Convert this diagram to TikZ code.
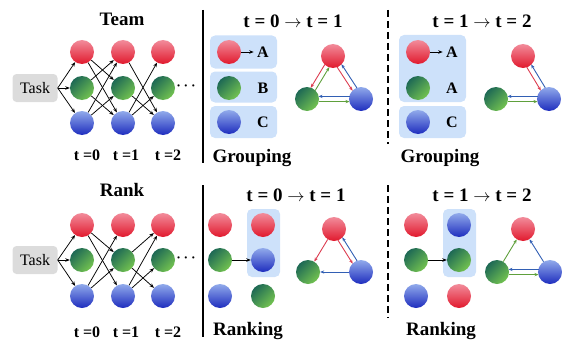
\documentclass[tikz,border=0pt]{standalone}
\usepackage{fontspec}
\setmainfont{Liberation Serif}
\usetikzlibrary{calc,arrows.meta}
\definecolor{rtop}{RGB}{242,140,155}
\definecolor{rbot}{RGB}{225,25,45}
\definecolor{gdark}{RGB}{30,105,85}
\definecolor{glight}{RGB}{115,195,80}
\definecolor{btop}{RGB}{145,170,235}
\definecolor{bbot}{RGB}{30,45,190}
\definecolor{boxblue}{RGB}{205,225,250}
\definecolor{taskgray}{RGB}{220,220,220}
\definecolor{ered}{RGB}{220,60,80}
\definecolor{egreen}{RGB}{95,160,60}
\definecolor{eblue}{RGB}{50,95,180}
\newcommand{\bedge}[3]{\draw[#1,tarr,shorten <=11.5pt,shorten >=11.5pt] ($(#2)!2.6pt!-90:(#3)$) -- ($(#3)!2.6pt!90:(#2)$);}
\newcommand{\sedge}[3]{\draw[#1,tarr] (#2) -- (#3);}
\begin{document}
\begin{tikzpicture}[x=1pt,y=-1pt,
  ball/.style={circle,inner sep=0pt,minimum size=24pt},
  rball/.style={ball,top color=rtop,bottom color=rbot},
  bball/.style={ball,top color=btop,bottom color=bbot},
  gball/.style={ball,top color=gdark,bottom color=glight,shading angle=45},
  title/.style={font=\bfseries\fontsize{19}{22}\selectfont},
  tlab/.style={font=\bfseries\fontsize{16}{19}\selectfont},
  letter/.style={font=\bfseries\fontsize{16}{19}\selectfont},
  taskbox/.style={fill=taskgray,rounded corners=4pt,minimum width=45pt,minimum height=28pt,font=\fontsize{16}{19}\selectfont},
  bluebox/.style={fill=boxblue,rounded corners=5pt,inner sep=0pt},
  dots/.style={font=\boldmath\bfseries\fontsize{15}{18}\selectfont,inner sep=0pt},
  net/.style={-{Stealth[length=4.5pt,width=3.5pt]},line width=0.75pt},
  tarr/.style={-{Stealth[length=4pt,width=3.2pt]},line width=0.9pt},
  sep/.style={line width=1.2pt},
  dsep/.style={line width=1.2pt,dash pattern=on 7pt off 4pt}]
\useasboundingbox (0,0) rectangle (569,345);

% ===== Team network =====
\node[title] (teamT) at (122,19) {Team};
\node[taskbox] (task1) at (35,88) {Task};
\foreach \c/\x in {1/82,2/123,3/163}{
  \node[rball] (tr\c) at (\x,52) {};
  \node[gball] (tg\c) at (\x,88) {};
  \node[bball] (tb\c) at (\x,123) {};
}
\node[dots] (tdots) at (186,86) {$\cdots$};
\foreach \n in {tr1,tg1,tb1}{\draw[net] (task1.east) -- (\n);}
\draw[net] (tr1) -- (tg2); \draw[net] (tr1) -- (tb2);
\draw[net] (tg1) -- (tr2); \draw[net] (tg1) -- (tb2);
\draw[net] (tb1) -- (tr2); \draw[net] (tb1) -- (tg2);
\draw[net] (tr2) -- (tb3); \draw[net] (tg2) -- (tb3);
\draw[net] (tb2) -- (tr3); \draw[net] (tb2) -- (tg3);
\node[tlab] (tt0) at (87,155) {t =0};
\node[tlab] (tt1) at (126,155) {t =1};
\node[tlab] (tt2) at (168,155) {t =2};

% ===== Rank network =====
\node[title] (rankT) at (122,190) {Rank};
\node[taskbox] (task2) at (35,260) {Task};
\foreach \c/\x in {1/82,2/123,3/163}{
  \node[rball] (rr\c) at (\x,225) {};
  \node[gball] (rg\c) at (\x,260) {};
  \node[bball] (rb\c) at (\x,296) {};
}
\node[dots] (rdots) at (186,258) {$\cdots$};
\foreach \n in {rr1,rg1,rb1}{\draw[net] (task2.east) -- (\n);}
\draw[net] (rr1) -- (rg2); \draw[net] (rr1) -- (rb2);
\draw[net] (rb1) -- (rr2); \draw[net] (rb1) -- (rg2);
\draw[net] (rg2) -- (rr3); \draw[net] (rg2) -- (rb3);
\draw[net] (rb2) -- (rr3); \draw[net] (rb2) -- (rg3);
\node[tlab] (rt0) at (87,332) {t =0};
\node[tlab] (rt1) at (126,332) {t =1};
\node[tlab] (rt2) at (168,332) {t =2};

% ===== separators =====
\coordinate (s1a) at (203,10); \coordinate (s1b) at (203,163);
\draw[sep] (s1a) -- (s1b);
\coordinate (s2a) at (203,185); \coordinate (s2b) at (203,337);
\draw[sep] (s2a) -- (s2b);
\coordinate (d1a) at (388,10); \coordinate (d1b) at (388,144);
\draw[dsep] (d1a) -- (d1b);
\coordinate (d2a) at (388,185); \coordinate (d2b) at (388,318);
\draw[dsep] (d2a) -- (d2b);

% ===== Panel 1: grouping t=0->1 =====
\node[title] (p1T) at (293,21) {t = 0 $\rightarrow$ t = 1};
\node[bluebox,minimum width=67pt,minimum height=33pt] (p1b1) at (243.5,52) {};
\node[bluebox,minimum width=67pt,minimum height=31pt] (p1b2) at (243.5,87) {};
\node[bluebox,minimum width=67pt,minimum height=32pt] (p1b3) at (243.5,122) {};
\node[rball] (p1r) at (229,52) {};
\node[gball] (p1g) at (229,88) {};
\node[bball] (p1b) at (229,122) {};
\node[letter] (p1A) at (263,52) {A};
\node[letter] (p1B) at (263,88) {B};
\node[letter] (p1C) at (263,122) {C};
\draw[net] (p1r) -- (p1A);
\node[rball] (q1r) at (333,56) {};
\node[gball] (q1g) at (307,99) {};
\node[bball] (q1b) at (361,99) {};
\bedge{ered}{q1r}{q1g}
\bedge{egreen}{q1g}{q1r}
\bedge{ered}{q1r}{q1b}
\bedge{eblue}{q1b}{q1r}
\bedge{eblue}{q1b}{q1g}
\bedge{egreen}{q1g}{q1b}
\node[title] (p1L) at (252,158) {Grouping};

% ===== Panel 2: grouping t=1->2 =====
\node[title] (p2T) at (482,21) {t = 1 $\rightarrow$ t = 2};
\node[bluebox,minimum width=67pt,minimum height=67pt] (p2b1) at (432.5,68.5) {};
\node[bluebox,minimum width=67pt,minimum height=32pt] (p2b2) at (432.5,122) {};
\node[rball] (p2r) at (418,52) {};
\node[gball] (p2g) at (418,88) {};
\node[bball] (p2b) at (418,122) {};
\node[letter] (p2A) at (452,52) {A};
\node[letter] (p2A2) at (452,88) {A};
\node[letter] (p2C) at (452,122) {C};
\draw[net] (p2r) -- (p2A);
\node[rball] (q2r) at (523,56) {};
\node[gball] (q2g) at (496,99) {};
\node[bball] (q2b) at (549,99) {};
\bedge{ered}{q2r}{q2b}
\bedge{eblue}{q2b}{q2r}
\bedge{eblue}{q2b}{q2g}
\bedge{egreen}{q2g}{q2b}
\node[title] (p2L) at (440,158) {Grouping};

% ===== Panel 3: ranking t=0->1 =====
\node[title] (p3T) at (296,195) {t = 0 $\rightarrow$ t = 1};
\node[bluebox,minimum width=33pt,minimum height=68pt] (p3box) at (263.5,243) {};
\node[rball] (p3r) at (220,225) {};
\node[gball] (p3g) at (220,260) {};
\node[bball] (p3b) at (220,296) {};
\node[rball] (p3r2) at (263,225) {};
\node[bball] (p3b2) at (263,260) {};
\node[gball] (p3g2) at (263,296) {};
\draw[net] (p3g) -- (p3b2);
\node[rball] (q3r) at (334,229) {};
\node[gball] (q3g) at (308,272) {};
\node[bball] (q3b) at (361,272) {};
\sedge{ered}{q3r}{q3g}
\bedge{ered}{q3r}{q3b}
\bedge{eblue}{q3b}{q3r}
\sedge{eblue}{q3b}{q3g}
\node[title] (p3L) at (248,331) {Ranking};

% ===== Panel 4: ranking t=1->2 =====
\node[title] (p4T) at (482,195) {t = 1 $\rightarrow$ t = 2};
\node[bluebox,minimum width=33pt,minimum height=68pt] (p4box) at (459.5,243) {};
\node[rball] (p4r) at (416,225) {};
\node[gball] (p4g) at (416,260) {};
\node[bball] (p4b) at (416,296) {};
\node[bball] (p4b2) at (459,225) {};
\node[gball] (p4g2) at (459,260) {};
\node[rball] (p4r2) at (459,296) {};
\draw[net] (p4g) -- (p4g2);
\node[rball] (q4r) at (523,229) {};
\node[gball] (q4g) at (497,272) {};
\node[bball] (q4b) at (550,272) {};
\sedge{egreen}{q4g}{q4r}
\sedge{eblue}{q4b}{q4r}
\bedge{eblue}{q4b}{q4g}
\bedge{egreen}{q4g}{q4b}
\node[title] (p4L) at (441,331) {Ranking};
\end{tikzpicture}
\end{document}
